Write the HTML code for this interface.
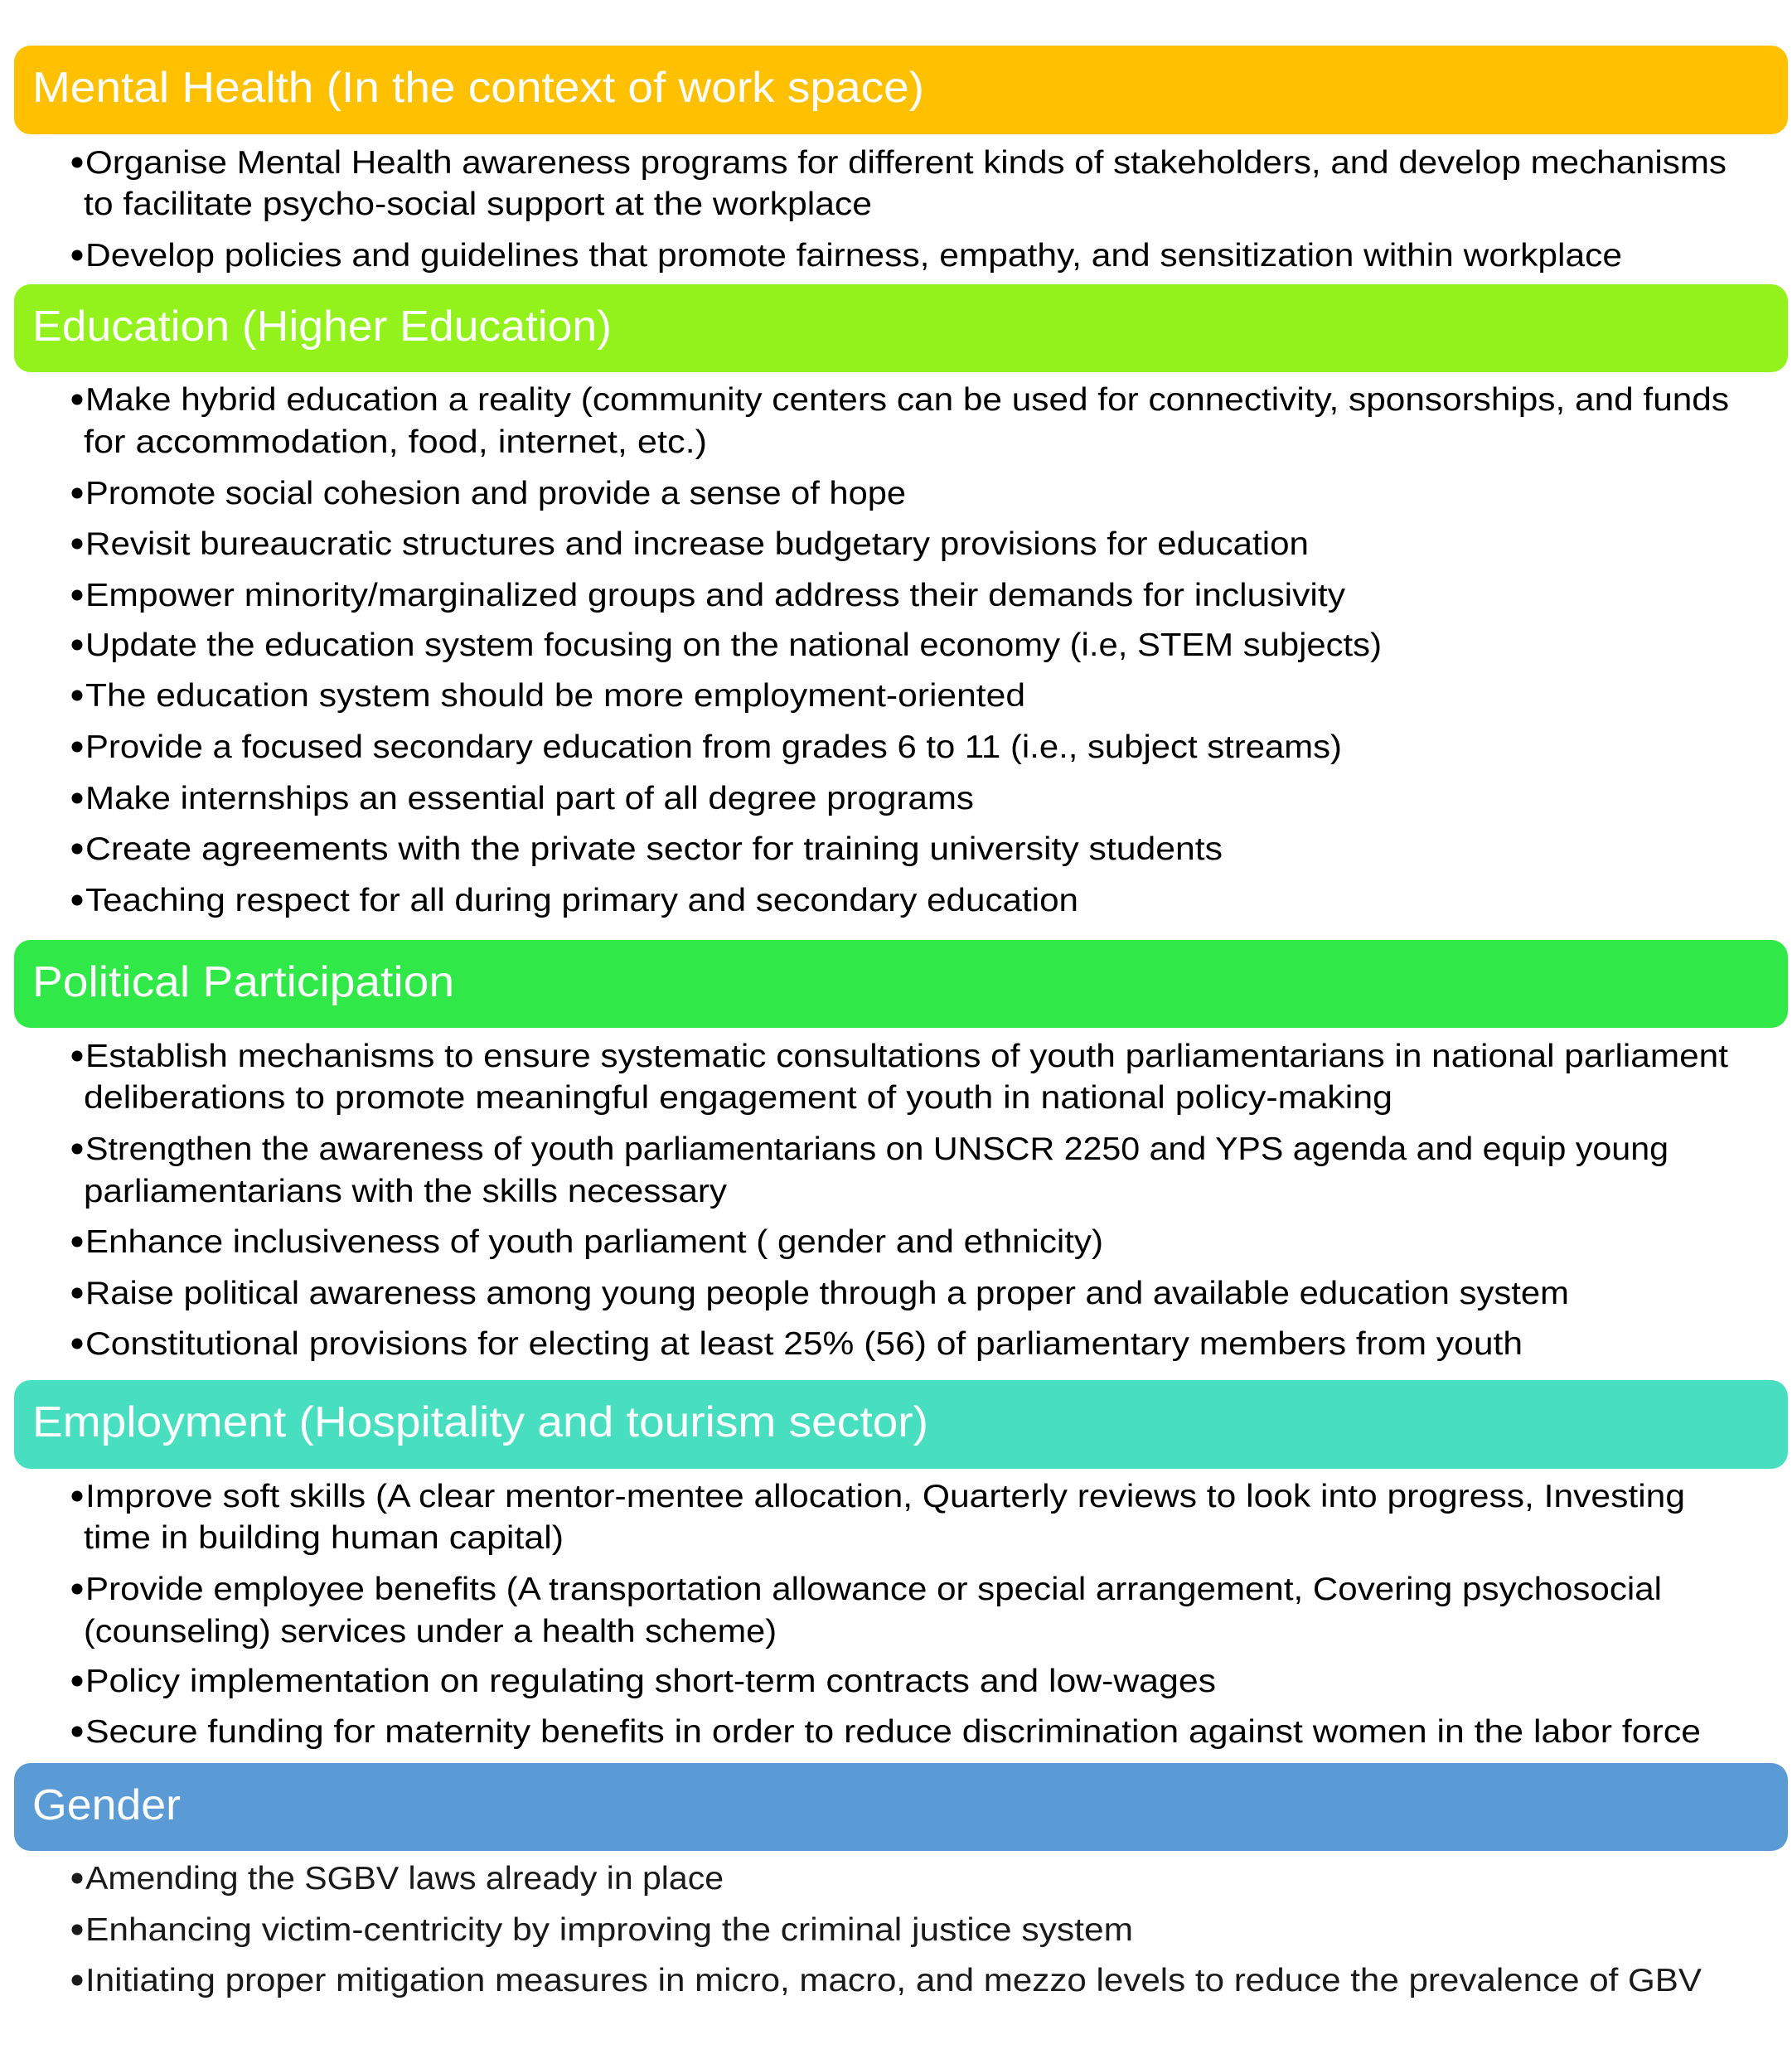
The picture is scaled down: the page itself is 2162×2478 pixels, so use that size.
<!DOCTYPE html>
<html>
<head>
<meta charset="utf-8">
<style>
  html, body { margin: 0; padding: 0; background: #ffffff; }
  body { width: 2162px; height: 2478px; overflow: hidden; }
  svg { display: block; }
  .h { font-family: "Liberation Sans", Arial, sans-serif; font-size: 52px; fill: #ffffff; }
  .t { font-family: "Liberation Sans", Arial, sans-serif; font-size: 39px; fill: #000000; }
  .g { fill: #1a1a1a; }
</style>
</head>
<body>
<svg width="2162" height="2478" viewBox="0 0 2162 2478" xmlns="http://www.w3.org/2000/svg">
  <rect x="0" y="0" width="2162" height="2478" fill="#ffffff"/>

  <!-- Mental Health -->
  <rect x="17" y="55" width="2140" height="107" rx="20" ry="20" fill="#FFC000"/>
  <text class="h" x="39" y="123" textLength="1076" lengthAdjust="spacingAndGlyphs">Mental Health (In the context of work space)</text>
  <circle cx="93" cy="196" r="6.5" fill="#000"/>
  <text class="t" x="103" y="209" textLength="1980" lengthAdjust="spacingAndGlyphs">Organise Mental Health awareness programs for different kinds of stakeholders, and develop mechanisms</text>
  <text class="t" x="101" y="259" textLength="951" lengthAdjust="spacingAndGlyphs">to facilitate psycho-social support at the workplace</text>
  <circle cx="93" cy="308" r="6.5" fill="#000"/>
  <text class="t" x="103" y="321" textLength="1854" lengthAdjust="spacingAndGlyphs">Develop policies and guidelines that promote fairness, empathy, and sensitization within workplace</text>

  <!-- Education -->
  <rect x="17" y="343" width="2140" height="106" rx="20" ry="20" fill="#93F21C"/>
  <text class="h" x="39" y="411" textLength="699" lengthAdjust="spacingAndGlyphs">Education (Higher Education)</text>
  <circle cx="93" cy="482" r="6.5" fill="#000"/>
  <text class="t" x="103" y="495" textLength="1983" lengthAdjust="spacingAndGlyphs">Make hybrid education a reality (community centers can be used for connectivity, sponsorships, and funds</text>
  <text class="t" x="101" y="546" textLength="752" lengthAdjust="spacingAndGlyphs">for accommodation, food, internet, etc.)</text>
  <circle cx="93" cy="595" r="6.5" fill="#000"/>
  <text class="t" x="103" y="608" textLength="990" lengthAdjust="spacingAndGlyphs">Promote social cohesion and provide a sense of hope</text>
  <circle cx="93" cy="656" r="6.5" fill="#000"/>
  <text class="t" x="103" y="669" textLength="1476" lengthAdjust="spacingAndGlyphs">Revisit bureaucratic structures and increase budgetary provisions for education</text>
  <circle cx="93" cy="718" r="6.5" fill="#000"/>
  <text class="t" x="103" y="731" textLength="1520" lengthAdjust="spacingAndGlyphs">Empower minority/marginalized groups and address their demands for inclusivity</text>
  <circle cx="93" cy="778" r="6.5" fill="#000"/>
  <text class="t" x="103" y="791" textLength="1564" lengthAdjust="spacingAndGlyphs">Update the education system focusing on the national economy (i.e, STEM subjects)</text>
  <circle cx="93" cy="839" r="6.5" fill="#000"/>
  <text class="t" x="103" y="852" textLength="1134" lengthAdjust="spacingAndGlyphs">The education system should be more employment-oriented</text>
  <circle cx="93" cy="901" r="6.5" fill="#000"/>
  <text class="t" x="103" y="914" textLength="1516" lengthAdjust="spacingAndGlyphs">Provide a focused secondary education from grades 6 to 11 (i.e., subject streams)</text>
  <circle cx="93" cy="963" r="6.5" fill="#000"/>
  <text class="t" x="103" y="976" textLength="1072" lengthAdjust="spacingAndGlyphs">Make internships an essential part of all degree programs</text>
  <circle cx="93" cy="1024" r="6.5" fill="#000"/>
  <text class="t" x="103" y="1037" textLength="1372" lengthAdjust="spacingAndGlyphs">Create agreements with the private sector for training university students</text>
  <circle cx="93" cy="1086" r="6.5" fill="#000"/>
  <text class="t" x="103" y="1099" textLength="1198" lengthAdjust="spacingAndGlyphs">Teaching respect for all during primary and secondary education</text>

  <!-- Political Participation -->
  <rect x="17" y="1134" width="2140" height="106" rx="20" ry="20" fill="#30E848"/>
  <text class="h" x="39" y="1202" textLength="509" lengthAdjust="spacingAndGlyphs">Political Participation</text>
  <circle cx="93" cy="1274" r="6.5" fill="#000"/>
  <text class="t" x="103" y="1287" textLength="1982" lengthAdjust="spacingAndGlyphs">Establish mechanisms to ensure systematic consultations of youth parliamentarians in national parliament</text>
  <text class="t" x="101" y="1337" textLength="1579" lengthAdjust="spacingAndGlyphs">deliberations to promote meaningful engagement of youth in national policy-making</text>
  <circle cx="93" cy="1386" r="6.5" fill="#000"/>
  <text class="t" x="103" y="1399" textLength="1910" lengthAdjust="spacingAndGlyphs">Strengthen the awareness of youth parliamentarians on UNSCR 2250 and YPS agenda and equip young</text>
  <text class="t" x="101" y="1450" textLength="776" lengthAdjust="spacingAndGlyphs">parliamentarians with the skills necessary</text>
  <circle cx="93" cy="1498" r="6.5" fill="#000"/>
  <text class="t" x="103" y="1511" textLength="1228" lengthAdjust="spacingAndGlyphs">Enhance inclusiveness of youth parliament ( gender and ethnicity)</text>
  <circle cx="93" cy="1560" r="6.5" fill="#000"/>
  <text class="t" x="103" y="1573" textLength="1790" lengthAdjust="spacingAndGlyphs">Raise political awareness among young people through a proper and available education system</text>
  <circle cx="93" cy="1621" r="6.5" fill="#000"/>
  <text class="t" x="103" y="1634" textLength="1734" lengthAdjust="spacingAndGlyphs">Constitutional provisions for electing at least 25% (56) of parliamentary members from youth</text>

  <!-- Employment -->
  <rect x="17" y="1665" width="2140" height="107" rx="20" ry="20" fill="#48DFC0"/>
  <text class="h" x="39" y="1733" textLength="1081" lengthAdjust="spacingAndGlyphs">Employment (Hospitality and tourism sector)</text>
  <circle cx="93" cy="1805" r="6.5" fill="#000"/>
  <text class="t" x="103" y="1818" textLength="1930" lengthAdjust="spacingAndGlyphs">Improve soft skills (A clear mentor-mentee allocation, Quarterly reviews to look into progress, Investing</text>
  <text class="t" x="101" y="1868" textLength="579" lengthAdjust="spacingAndGlyphs">time in building human capital)</text>
  <circle cx="93" cy="1917" r="6.5" fill="#000"/>
  <text class="t" x="103" y="1930" textLength="1902" lengthAdjust="spacingAndGlyphs">Provide employee benefits (A transportation allowance or special arrangement, Covering psychosocial</text>
  <text class="t" x="101" y="1981" textLength="836" lengthAdjust="spacingAndGlyphs">(counseling) services under a health scheme)</text>
  <circle cx="93" cy="2028" r="6.5" fill="#000"/>
  <text class="t" x="103" y="2041" textLength="1364" lengthAdjust="spacingAndGlyphs">Policy implementation on regulating short-term contracts and low-wages</text>
  <circle cx="93" cy="2089" r="6.5" fill="#000"/>
  <text class="t" x="103" y="2102" textLength="1949" lengthAdjust="spacingAndGlyphs">Secure funding for maternity benefits in order to reduce discrimination against women in the labor force</text>

  <!-- Gender -->
  <rect x="17" y="2127" width="2140" height="106" rx="20" ry="20" fill="#5B9BD5"/>
  <text class="h" x="39" y="2195" textLength="179" lengthAdjust="spacingAndGlyphs">Gender</text>
  <circle cx="93" cy="2266" r="6.5" fill="#1a1a1a"/>
  <text class="t g" x="103" y="2279" textLength="770" lengthAdjust="spacingAndGlyphs">Amending the SGBV laws already in place</text>
  <circle cx="93" cy="2328" r="6.5" fill="#1a1a1a"/>
  <text class="t g" x="103" y="2341" textLength="1264" lengthAdjust="spacingAndGlyphs">Enhancing victim-centricity by improving the criminal justice system</text>
  <circle cx="93" cy="2389" r="6.5" fill="#1a1a1a"/>
  <text class="t g" x="103" y="2402" textLength="1950" lengthAdjust="spacingAndGlyphs">Initiating proper mitigation measures in micro, macro, and mezzo levels to reduce the prevalence of GBV</text>
</svg>
</body>
</html>
